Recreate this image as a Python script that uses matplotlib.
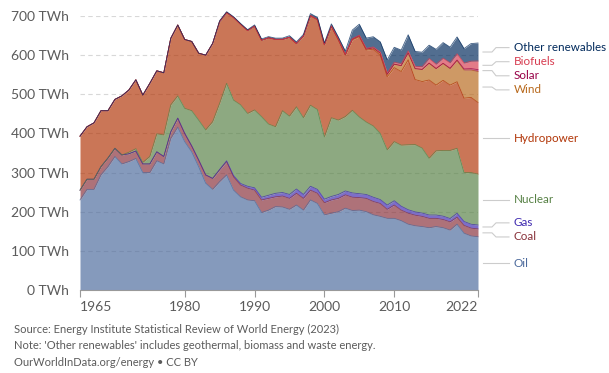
import matplotlib
matplotlib.use("Agg")
import matplotlib.pyplot as plt
from matplotlib.lines import Line2D
import numpy as np

plt.rcParams['font.family'] = ['Lato', 'DejaVu Sans']

years = list(range(1965, 2023))

oil = [230, 257, 257, 294, 315, 341, 322, 328, 336, 300,
       300, 330, 322, 387, 416, 379, 353, 315, 273, 257,
       277, 294, 255, 238, 230, 228, 198, 204, 213, 212,
       206, 217, 204, 230, 221, 192, 196, 200, 209, 203,
       204, 200, 192, 188, 183, 183, 177, 168, 164, 162,
       159, 162, 159, 153, 168, 145, 138, 136]
coal = [25, 26, 26, 21, 22, 21, 23, 20, 19, 22,
        22, 23, 19, 17, 23, 21, 15, 17, 21, 28,
        30, 34, 34, 30, 30, 27, 32, 30, 25, 28,
        28, 30, 30, 25, 26, 31, 34, 34, 34, 34,
        32, 34, 34, 33, 23, 34, 27, 28, 27, 26,
        24, 21, 21, 21, 18, 20, 20, 20]
gas = [0] * 20 + [1, 2, 3, 4, 5, 6, 7, 8, 9, 9,
                  10, 11, 10, 10, 10, 9, 9, 10, 10, 11,
                  10, 10, 11, 10, 11, 11, 10, 9, 8.5, 8.5,
                  8.5, 8.5, 8.6, 8.5, 10, 10, 10, 10]
nuclear = [0, 0, 0, 0, 0, 0, 0, 4, 6, 4,
           19, 46, 55, 69, 57, 64, 90, 102, 115, 145,
           169, 198, 193, 201, 186, 199, 206, 182, 170, 209,
           200, 210, 196, 207, 204, 159, 201, 190, 190, 211,
           196, 185, 182, 169, 141, 151, 156, 166, 172, 166,
           145, 164, 168, 174, 166, 125, 132, 130]
hydro = [138, 134, 144, 143, 121, 125, 151, 159, 176, 172,
         187, 161, 159, 170, 181, 176, 177, 171, 191, 200,
         209, 181, 211, 206, 212, 214, 195, 220, 223, 182,
         201, 161, 208, 228, 229, 235, 233, 205, 157, 180,
         205, 184, 196, 200, 187, 189, 188, 217, 166, 170,
         200, 168, 179, 167, 170, 190, 192, 183]
wind = [0] * 25 + [0.2, 0.3, 0.3, 0.4, 0.5, 0.6, 0.8, 1, 1.1, 1.4, 1.2, 1.3, 1.5] + \
       [1.5, 2, 2.5, 2.5, 3.5, 5, 6, 9, 15, 18, 28, 31, 43, 42, 43, 42, 54, 72, 70, 79]
solar = [0] * 51 + [0.3, 0.5, 0.9, 1.5, 2.7, 3.5, 5]
biofuels = [0] * 36 + [0.5, 0.6, 0.8, 1, 1.5, 2, 2.5, 3, 4, 5, 5, 5, 6, 7,
                       12, 11, 13, 14, 16, 15, 19, 22]
other = [0] * 20 + [2, 2, 2, 2, 2, 3, 3, 3, 3, 3, 4, 4, 4, 5, 5, 4, 5, 5] + \
        [8, 22, 28, 26, 26, 26, 33, 38, 35, 41, 38, 37, 34, 38, 40, 40, 43, 37, 45, 46]

names = ["Oil", "Coal", "Gas", "Nuclear", "Hydropower", "Wind", "Solar",
         "Biofuels", "Other renewables"]
values = [oil, coal, gas, nuclear, hydro, wind, solar, biofuels, other]
colors = ["#4C6A9C", "#883039", "#3F2AB0", "#578145", "#B13507", "#B8691C",
          "#970046", "#D73C50", "#00295B"]

W, H = 609, 373
fig = plt.figure(figsize=(W / 100, H / 100), dpi=100)
ax_l, ax_r, ax_b, ax_t = 80, 478, 290, 16
ax = fig.add_axes([ax_l / W, 1 - ax_b / H, (ax_r - ax_l) / W, (ax_b - ax_t) / H])

x = np.array(years, dtype=float)
base = np.zeros(len(years))
tops = []
for name, v, c in zip(names, values, colors):
    v = np.array(v, dtype=float)
    top = base + v
    ax.fill_between(x, base, top, color=c, alpha=0.68, linewidth=0, zorder=2,
                    clip_on=False)
    ax.plot(x, top, color=c, alpha=0.75, linewidth=0.6, zorder=3, clip_on=False)
    tops.append((base.copy(), top.copy()))
    base = top

ax.set_xlim(1965, 2022)
ax.set_ylim(0, 700)
yt = [0, 100, 200, 300, 400, 500, 600, 700]
ax.set_yticks(yt)
ax.set_yticklabels([f"{t} TWh" for t in yt])
for t in yt[1:]:
    ax.axhline(t, color="#d8d8d8", linewidth=0.8, linestyle=(0, (4, 3)), zorder=1)
xt = [1965, 1980, 1990, 2000, 2010, 2022]
ax.set_xticks(xt)
ax.set_xticklabels([str(t) for t in xt])
xlabs = ax.get_xticklabels()
xlabs[0].set_ha("left")
xlabs[-1].set_ha("right")
for s in ["top", "right", "left"]:
    ax.spines[s].set_visible(False)
ax.spines["bottom"].set_color("#999999")
ax.spines["bottom"].set_linewidth(0.8)
ax.spines["bottom"].set_zorder(4)
ax.tick_params(axis="y", length=0, labelsize=10, labelcolor="#5b5b5b", pad=8)
ax.tick_params(axis="x", length=5, width=0.8, color="#999999", labelsize=10,
               labelcolor="#5b5b5b", pad=3)

# right-hand labels with leader lines
mids = np.array([(b[-1] + t[-1]) / 2 for b, t in tops])
pos = mids.copy()
gap = 36.0
order = np.argsort(pos)
for _ in range(500):
    moved = False
    for a, b in zip(order[:-1], order[1:]):
        d = pos[b] - pos[a]
        if d < gap - 1e-6:
            s = (gap - d) / 2
            pos[a] -= s
            pos[b] += s
            moved = True
    if not moved:
        break

def ypix(v):
    return ax_b - v * (ax_b - ax_t) / 700.0

for name, c, m, p in zip(names, colors, mids, pos):
    y0 = ypix(m)
    y1 = ypix(p)
    xs = [483, 492, 496, 509]
    ys = [y0, y0, y1, y1]
    fig.add_artist(Line2D([xx / W for xx in xs], [1 - yy / H for yy in ys],
                          color="#cccccc", linewidth=0.8, transform=fig.transFigure))
    fig.text(514 / W, 1 - y1 / H, name, color=c, fontsize=8.4, va="center", ha="left")

foot = ["Source: Energy Institute Statistical Review of World Energy (2023)",
        "Note: 'Other renewables' includes geothermal, biomass and waste energy.",
        "OurWorldInData.org/energy \u2022 CC BY"]
for i, line in enumerate(foot):
    fig.text(14 / W, 1 - (329 + 16.5 * i) / H, line, color="#5b5b5b", fontsize=8,
             va="center", ha="left")

fig.savefig("out.png", dpi=100, facecolor="white")
